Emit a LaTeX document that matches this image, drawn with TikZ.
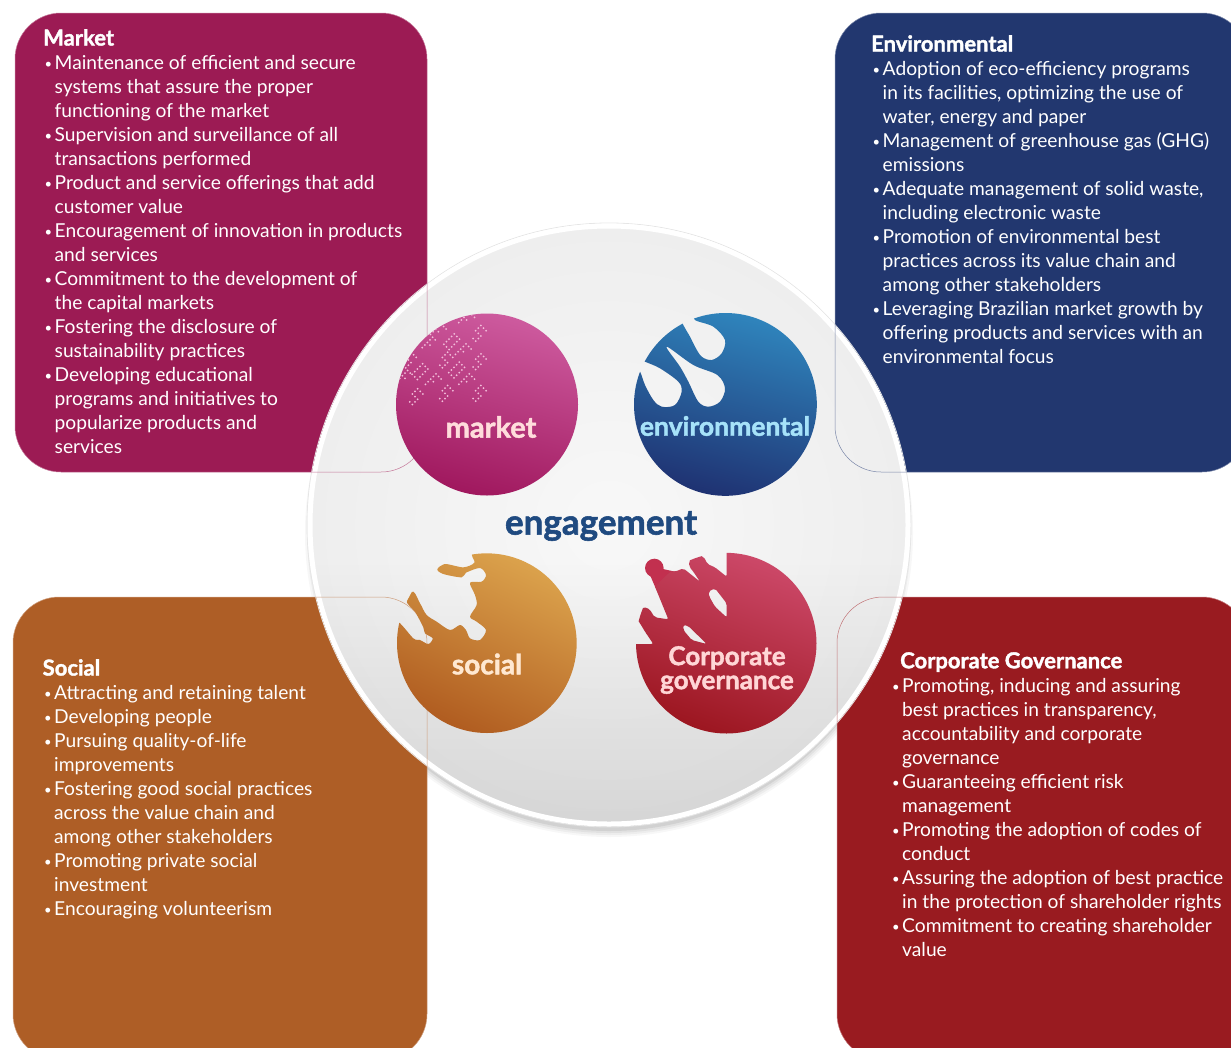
\documentclass[tikz,border=0pt]{standalone}
\usepackage{fontspec}
\setmainfont{Lato}
\newfontfamily\heavyfont[BoldFeatures={FakeBold=1.6}]{Lato}
\usetikzlibrary{shadings,fadings}
\definecolor{pmarket}{HTML}{9C1B54}
\definecolor{penv}{HTML}{22376F}
\definecolor{psocial}{HTML}{AE5E26}
\definecolor{pcorp}{HTML}{991B20}
\definecolor{engblue}{HTML}{1F4A80}
\definecolor{mtop}{HTML}{CD5A9E}
\definecolor{mbot}{HTML}{A0185E}
\definecolor{etop}{HTML}{2F84BC}
\definecolor{emid}{HTML}{125C9C}
\definecolor{ebot}{HTML}{1F3272}
\definecolor{stop}{HTML}{DBA24C}
\definecolor{sbot}{HTML}{B05C20}
\definecolor{ctop}{HTML}{CC4868}
\definecolor{cbot}{HTML}{9C1620}
\definecolor{headred}{HTML}{C2304F}
\definecolor{armorange}{HTML}{D08B35}
\definecolor{dc1}{HTML}{F8F8F8}
\definecolor{dc2}{HTML}{EEEEEE}
\definecolor{dc3}{HTML}{D8D8D8}
\definecolor{dc4}{HTML}{C6C6C6}
\definecolor{dotpink}{HTML}{F3BEDB}
\pgfdeclareradialshading{discshade}{\pgfpoint{0bp}{0bp}}{%
 color(0bp)=(dc1); color(25bp)=(dc2); color(42bp)=(dc3); color(50bp)=(dc4)}
\newcommand{\bl}[1]{\makebox[11.5pt][l]{\hspace*{1.5pt}\fontsize{13}{13}\selectfont\raisebox{.8pt}{•}}#1}
\newcommand{\cl}[1]{\hspace*{11.5pt}#1}
\newcommand{\ttl}[1]{{\fontsize{22}{24}\selectfont\heavyfont\bfseries\rule{0pt}{16pt}#1}}
\newcommand{\dotglyph}[3]{%
 \begin{scope}[shift={(#1,#2)},rotate=-45,x=1pt,y=-1pt]
  \ifcase#3
   \draw[dotline] (3.7,-7.4)--(-3.7,-7.4)--(-3.7,0)--(3.7,0)--(3.7,7.4)--(-3.7,7.4);
  \or
   \draw[dotline] (-3.7,-7.4)--(-3.7,7.4)--(3.7,7.4)--(3.7,-7.4)--cycle;
  \or
   \draw[dotline] (-3.7,7.4)--(-3.7,-7.4)--(3.7,-7.4) (-3.7,0)--(3.7,0);
  \fi
 \end{scope}}
\tikzset{
 paneltext/.style={anchor=north west,inner sep=0pt,text=white,align=left,
   font=\fontsize{19.2}{24}\selectfont},
 panelfill/.style={rounded corners=46pt,fill=#1},
 panelline/.style={rounded corners=46pt,draw=#1,line width=.5pt},
 dotline/.style={draw=dotpink,line width=2pt,line cap=round,dash pattern=on 0pt off 3.7pt},
 badge/.style={inner sep=0pt,font=\heavyfont\bfseries,align=center},
}
\begin{document}
\begin{tikzpicture}[x=1pt,y=-1pt]
\useasboundingbox (0,0) rectangle (1231,1047);
\clip (0,0) rectangle (1231,1047);
% soft shadow of the disc
\foreach \r/\o in {304/.03,302/.04,300/.05,298/.07}{
  \fill[black,opacity=\o] (609,533) circle[radius=\r pt];
}
% panels
\path[panelfill=pmarket] (15,13) rectangle (427,472);
\path[panelfill=penv] (835,13) rectangle (1248,472);
\path[panelfill=psocial] (13,597) rectangle (427,1060);
\path[panelfill=pcorp] (837,597) rectangle (1248,1060);
% disc
\shade[shading=discshade] (609,525) circle[radius=299pt];
\begin{scope}
 \clip (609,525) circle[radius=299pt];
 \fill[black,opacity=.10,path fading=north] (300,560) rectangle (920,825);
\end{scope}
\draw[black!10,line width=.8pt] (609,525) circle[radius=302pt];
\draw[white,line width=5pt] (609,525) circle[radius=299pt];
% thin panel outlines seen on the disc
\draw[panelline=pmarket!60!white] (15,13) rectangle (427,472);
\draw[panelline=penv!60!white] (835,13) rectangle (1248,472);
\draw[panelline=psocial!60!white] (13,597) rectangle (427,1060);
\draw[panelline=pcorp!60!white] (837,597) rectangle (1248,1060);
% market badge
\shade[top color=mtop,bottom color=mbot,shading angle=-15] (487,404.5) circle[radius=91pt];
\begin{scope}
 \clip (487,404.5) circle[radius=91pt];
 \begin{scope}[shift={(395,310)},x=.33333pt,y=-.33333pt]
  \dotglyph{215}{30}{2}\dotglyph{250}{70}{0}
  \dotglyph{130}{65}{2}\dotglyph{170}{95}{1}\dotglyph{205}{125}{2}\dotglyph{250}{155}{0}
  \dotglyph{105}{105}{2}\dotglyph{150}{150}{0}\dotglyph{185}{180}{1}\dotglyph{215}{215}{2}\dotglyph{250}{250}{0}
  \dotglyph{40}{150}{0}\dotglyph{75}{185}{1}\dotglyph{115}{215}{2}\dotglyph{150}{250}{0}
  \dotglyph{30}{205}{2}\dotglyph{60}{260}{0}
 \end{scope}
\end{scope}
\node[badge,text=pink!55!white,font=\fontsize{29}{30}\selectfont\heavyfont\bfseries] (mlabel) at (491,427) {market};
% environmental badge
\begin{scope}
 \clip (725.5,404.5) circle[radius=91.5pt];
 \begin{scope}[shift={(630,310)},x=.33333pt,y=-.33333pt,even odd rule]
  \clip (-100,-100) rectangle (700,700)
    plot[smooth cycle,tension=.55] coordinates {(195,30)(250,50)(285,90)(275,130)(245,150)(215,140)(195,110)(180,80)(160,45)(150,15)(185,5)}
    plot[smooth cycle,tension=.55] coordinates {(110,110)(190,165)(262,195)(285,235)(270,275)(235,290)(205,275)(175,215)(150,170)}
    plot[smooth cycle,tension=.55] coordinates {(45,155)(90,175)(145,215)(155,245)(135,285)(95,290)(70,270)(45,225)(30,185)(10,170)(25,145)};
  \shade[top color=etop,middle color=emid,bottom color=ebot,shading angle=-15] (286,283) circle[radius=91.5pt];
 \end{scope}
\end{scope}
\node[badge,text=cyan!35!white,font=\fontsize{26.5}{27}\selectfont\heavyfont\bfseries] (elabel) at (725,426) {environmental};
% social badge
\begin{scope}[shift={(380,540)},x=.33333pt,y=-.33333pt]
 \fill[armorange,rounded corners=1pt] (97,153) -- (80,185) -- (105,215) -- (128,205) -- cycle;
\end{scope}
\begin{scope}
 \clip (487,643) circle[radius=90pt];
 \begin{scope}[shift={(380,540)},x=.33333pt,y=-.33333pt,even odd rule]
  \clip (-100,-100) rectangle (700,700)
   plot[smooth cycle,tension=.5] coordinates {(-20,-20)(275,-20)(275,42)(283,68)(250,82)(195,72)(172,88)(190,102)(245,112)(258,98)(300,84)(318,105)(305,125)(270,128)(285,165)(290,195)(270,230)(290,245)(318,270)(300,300)(270,295)(258,270)(240,255)(210,270)(170,245)(140,225)(120,190)(100,155)(80,185)(105,215)(130,262)(135,280)(158,295)(145,312)(120,300)(100,295)(55,245)(-20,190)};
  \shade[top color=stop,bottom color=sbot,shading angle=-25] (320,310) circle[radius=90pt];
 \end{scope}
\end{scope}
\node[badge,text=orange!18!white,font=\fontsize{28}{29}\selectfont\heavyfont\bfseries] (slabel) at (487,664) {social};
% corporate governance badge
\begin{scope}[shift={(620,540)},x=.33333pt,y=-.33333pt]
 \fill[headred] (103,84) circle[radius=9.3pt];
 \fill[headred] (88,100) -- (120,85) -- (165,95) -- (190,120) -- (130,190) -- (105,140) -- cycle;
\end{scope}
\begin{scope}
 \clip (726.5,643) circle[radius=90.5pt];
 \begin{scope}[shift={(620,540)},x=.33333pt,y=-.33333pt,even odd rule,rounded corners=2pt]
  \clip (-100,-100) rectangle (700,700)
   (320,-20)--(320,110)--(285,82)--(262,72)--(258,62)--(250,50)--(232,43)--(215,50)--(207,65)--(208,80)--(222,98)--(240,125)--(190,85)--(165,95)--(133,92)--(130,84)--(122,65)--(103,57)--(84,65)--(76,84)--(78,95)--(90,108)--(105,140)--(145,238)--(105,232)--(97,222)--(90,208)--(72,201)--(55,208)--(48,222)--(50,235)--(60,250)--(75,275)--(100,312)--(-20,312)--(-20,-20)--cycle
    (265,155) -- (285,145) -- (320,190) -- (320,232) -- (285,200) -- (268,170) -- cycle
    (190,255) -- (205,258) -- (260,312) -- (215,300) -- (190,270) -- cycle;
  \shade[top color=ctop,bottom color=cbot,shading angle=-20] (318,310) circle[radius=90.5pt];
 \end{scope}
\end{scope}
\node[badge,text=pink!65!white,font=\fontsize{26}{27}\selectfont\heavyfont\bfseries] (clabel) at (727,670) {Corporate\\[-3pt]governance};
% centre word
\node[inner sep=0pt,text=engblue,font=\fontsize{35}{36}\selectfont\heavyfont\bfseries] (eng) at (601,526) {engagement};
% panel texts
\node[paneltext] (mtext) at (43,29) {\ttl{Market}\\
\bl{Maintenance of efficient and secure}\\
\cl{systems that assure the proper}\\
\cl{functioning of the market}\\
\bl{Supervision and surveillance of all}\\
\cl{transactions performed}\\
\bl{Product and service offerings that add}\\
\cl{customer value}\\
\bl{Encouragement of innovation in products}\\
\cl{and services}\\
\bl{Commitment to the development of}\\
\cl{the capital markets}\\
\bl{Fostering the disclosure of}\\
\cl{sustainability practices}\\
\bl{Developing educational}\\
\cl{programs and initiatives to}\\
\cl{popularize products and}\\
\cl{services}};
\node[paneltext] (etext) at (871,35) {\ttl{Environmental}\\
\bl{Adoption of eco-efficiency programs}\\
\cl{in its facilities, optimizing the use of}\\
\cl{water, energy and paper}\\
\bl{Management of greenhouse gas (GHG)}\\
\cl{emissions}\\
\bl{Adequate management of solid waste,}\\
\cl{including electronic waste}\\
\bl{Promotion of environmental best}\\
\cl{practices across its value chain and}\\
\cl{among other stakeholders}\\
\bl{Leveraging Brazilian market growth by}\\
\cl{offering products and services with an}\\
\cl{environmental focus}};
\node[paneltext] (stext) at (42.5,659) {\ttl{Social}\\
\bl{Attracting and retaining talent}\\
\bl{Developing people}\\
\bl{Pursuing quality-of-life}\\
\cl{improvements}\\
\bl{Fostering good social practices}\\
\cl{across the value chain and}\\
\cl{among other stakeholders}\\
\bl{Promoting private social}\\
\cl{investment}\\
\bl{Encouraging volunteerism}};
\node[paneltext] (ctext) at (890.5,652) {\hspace*{9.5pt}\ttl{Corporate Governance}\\
\bl{Promoting, inducing and assuring}\\
\cl{best practices in transparency,}\\
\cl{accountability and corporate}\\
\cl{governance}\\
\bl{Guaranteeing efficient risk}\\
\cl{management}\\
\bl{Promoting the adoption of codes of}\\
\cl{conduct}\\
\bl{Assuring the adoption of best practice}\\
\cl{in the protection of shareholder rights}\\
\bl{Commitment to creating shareholder}\\
\cl{value}};
\end{tikzpicture}
\end{document}
